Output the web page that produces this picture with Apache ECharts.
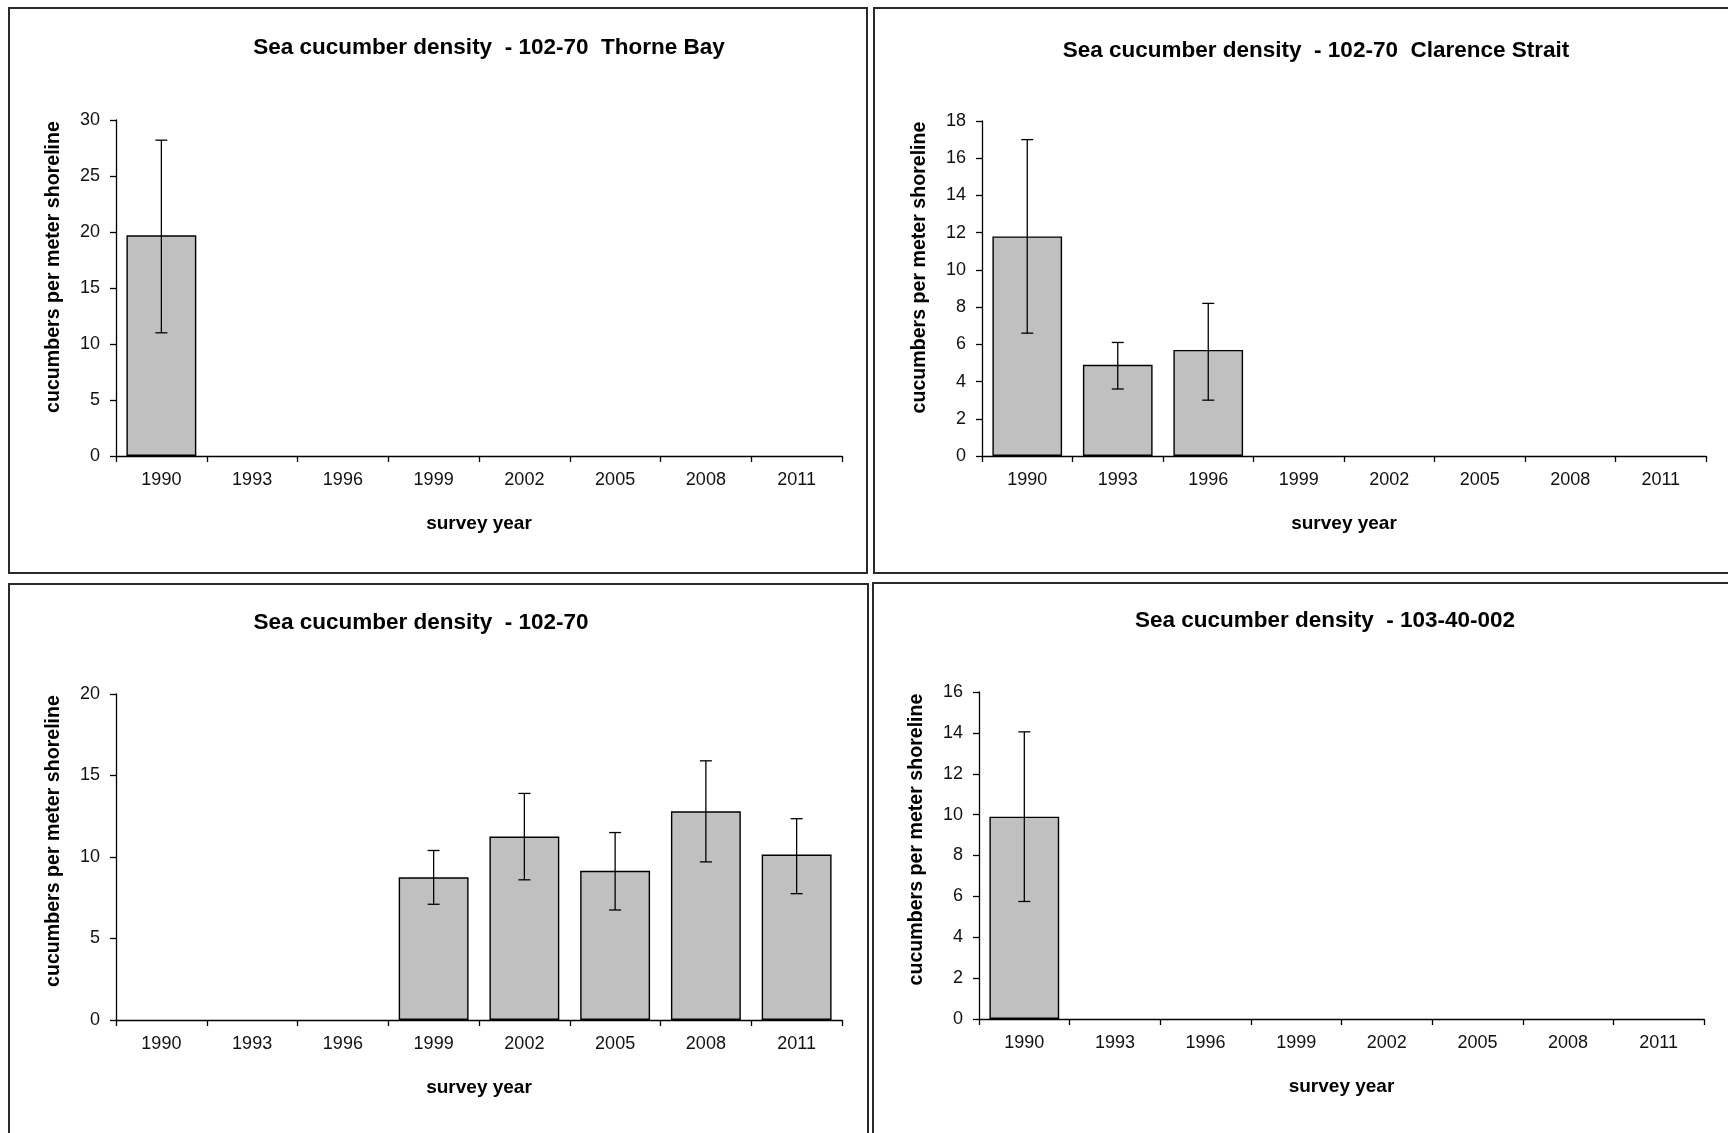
<!DOCTYPE html>
<html>
<head>
<meta charset="utf-8">
<title>Sea cucumber density</title>
<script src="https://cdn.jsdelivr.net/npm/echarts@6/dist/echarts.min.js"></script>
<style>
  html, body { margin: 0; padding: 0; background: #fff; }
  #chart { width: 1728px; height: 1133px; }
</style>
</head>
<body>
<div id="chart"></div>
<script>
// Survey years shared by every panel
const years = ['1990', '1993', '1996', '1999', '2002', '2005', '2008', '2011'];

// 102-70 Thorne Bay: mean density and error-bar bounds
const thorneMean = [19.7, null, null, null, null, null, null, null];
const thorneLow  = [11.0, null, null, null, null, null, null, null];
const thorneHigh = [28.2, null, null, null, null, null, null, null];

// 102-70 Clarence Strait
const clarenceMean = [11.8, 4.9, 5.7, null, null, null, null, null];
const clarenceLow  = [6.6, 3.6, 3.0, null, null, null, null, null];
const clarenceHigh = [17.0, 6.1, 8.2, null, null, null, null, null];

// 102-70
const d10270Mean = [null, null, null, 8.75, 11.25, 9.15, 12.8, 10.15];
const d10270Low  = [null, null, null, 7.1, 8.6, 6.75, 9.7, 7.75];
const d10270High = [null, null, null, 10.4, 13.9, 11.5, 15.9, 12.35];

// 103-40-002
const d10340Mean = [9.9, null, null, null, null, null, null, null];
const d10340Low  = [5.75, null, null, null, null, null, null, null];
const d10340High = [14.05, null, null, null, null, null, null, null];

const panelTitles = [
  'Sea cucumber density  - 102-70  Thorne Bay',
  'Sea cucumber density  - 102-70  Clarence Strait',
  'Sea cucumber density  - 102-70',
  'Sea cucumber density  - 103-40-002'
];
const yAxisName = 'cucumbers per meter shoreline';
const xAxisName = 'survey year';

const panels = [
  { mean: thorneMean, low: thorneLow, high: thorneHigh, max: 30, step: 5 },
  { mean: clarenceMean, low: clarenceLow, high: clarenceHigh, max: 18, step: 2 },
  { mean: d10270Mean, low: d10270Low, high: d10270High, max: 20, step: 5 },
  { mean: d10340Mean, low: d10340Low, high: d10340High, max: 16, step: 2 }
];

// Layout of the four panels (plot rectangles, title anchors, frames)
const layout = [
  { grid: { left: 116, top: 120, width: 726, height: 336 }, title: [489, 50], frame: [9, 8, 858, 565] },
  { grid: { left: 982, top: 121, width: 724, height: 335 }, title: [1316, 53], frame: [874, 8, 880, 565] },
  { grid: { left: 116, top: 694, width: 726, height: 326 }, title: [421, 625], frame: [9, 584, 859, 620] },
  { grid: { left: 979, top: 692, width: 725, height: 327 }, title: [1325, 623], frame: [873, 583, 880, 620] }
];

const FONT = 'Arial, "Liberation Sans", Helvetica, sans-serif';
const INK = '#000';

function errorBarItem(params, api) {
  const x = api.value(0);
  const lo = api.coord([x, api.value(1)]);
  const hi = api.coord([x, api.value(2)]);
  const cap = 6;
  const style = { stroke: INK, lineWidth: 1.3 };
  return {
    type: 'group',
    children: [
      { type: 'line', shape: { x1: hi[0], y1: hi[1], x2: lo[0], y2: lo[1] }, style: style },
      { type: 'line', shape: { x1: hi[0] - cap, y1: hi[1], x2: hi[0] + cap, y2: hi[1] }, style: style },
      { type: 'line', shape: { x1: lo[0] - cap, y1: lo[1], x2: lo[0] + cap, y2: lo[1] }, style: style }
    ]
  };
}

const grids = [], xAxes = [], yAxes = [], series = [], titles = [], frames = [];

panels.forEach((p, k) => {
  const L = layout[k];
  grids.push(Object.assign({ containLabel: false }, L.grid));

  titles.push({
    text: panelTitles[k],
    left: L.title[0],
    top: L.title[1] - 14,
    textAlign: 'center',
    padding: 0,
    textStyle: { fontFamily: FONT, fontWeight: 'bold', fontSize: 22.5, color: INK }
  });

  xAxes.push({
    type: 'category',
    gridIndex: k,
    data: years,
    boundaryGap: true,
    name: xAxisName,
    nameLocation: 'middle',
    nameGap: 58,
    nameTextStyle: { fontFamily: FONT, fontWeight: 'bold', fontSize: 19, color: INK },
    axisLine: { lineStyle: { color: INK, width: 1.3 } },
    axisTick: { show: true, alignWithLabel: false, length: 6, lineStyle: { color: INK, width: 1.3 } },
    axisLabel: { fontFamily: FONT, fontSize: 18, color: '#111', margin: 15, interval: 0 },
    splitLine: { show: false }
  });

  yAxes.push({
    type: 'value',
    gridIndex: k,
    min: 0,
    max: p.max,
    interval: p.step,
    name: yAxisName,
    nameLocation: 'middle',
    nameGap: 52,
    nameTextStyle: {
      fontFamily: FONT, fontWeight: 'bold', fontSize: 19.6, color: INK,
      padding: [0, 0, 0, k < 2 ? 42 : 32]
    },
    axisLine: { show: true, lineStyle: { color: INK, width: 1.3 } },
    axisTick: { show: true, length: 6, lineStyle: { color: INK, width: 1.3 } },
    axisLabel: { fontFamily: FONT, fontSize: 18, color: '#111', margin: 16 },
    splitLine: { show: false }
  });

  series.push({
    type: 'bar',
    xAxisIndex: k,
    yAxisIndex: k,
    data: p.mean,
    barCategoryGap: '23%',
    itemStyle: { color: '#c0c0c0', borderColor: INK, borderWidth: 1.4 },
    silent: true,
    z: 2
  });

  const errData = [];
  p.mean.forEach((v, i) => {
    if (v != null) errData.push([i, p.low[i], p.high[i]]);
  });
  series.push({
    type: 'custom',
    xAxisIndex: k,
    yAxisIndex: k,
    data: errData,
    renderItem: errorBarItem,
    encode: { x: 0, y: [1, 2] },
    silent: true,
    z: 3
  });

  frames.push({
    type: 'rect',
    shape: { x: L.frame[0], y: L.frame[1], width: L.frame[2], height: L.frame[3] },
    style: { fill: 'none', stroke: '#2a2a2a', lineWidth: 2 },
    silent: true,
    z: 0
  });
});

const chart = echarts.init(document.getElementById('chart'), null, { renderer: 'canvas' });
chart.setOption({
  backgroundColor: '#fff',
  animation: false,
  title: titles,
  grid: grids,
  xAxis: xAxes,
  yAxis: yAxes,
  series: series,
  graphic: frames
});
</script>
</body>
</html>
